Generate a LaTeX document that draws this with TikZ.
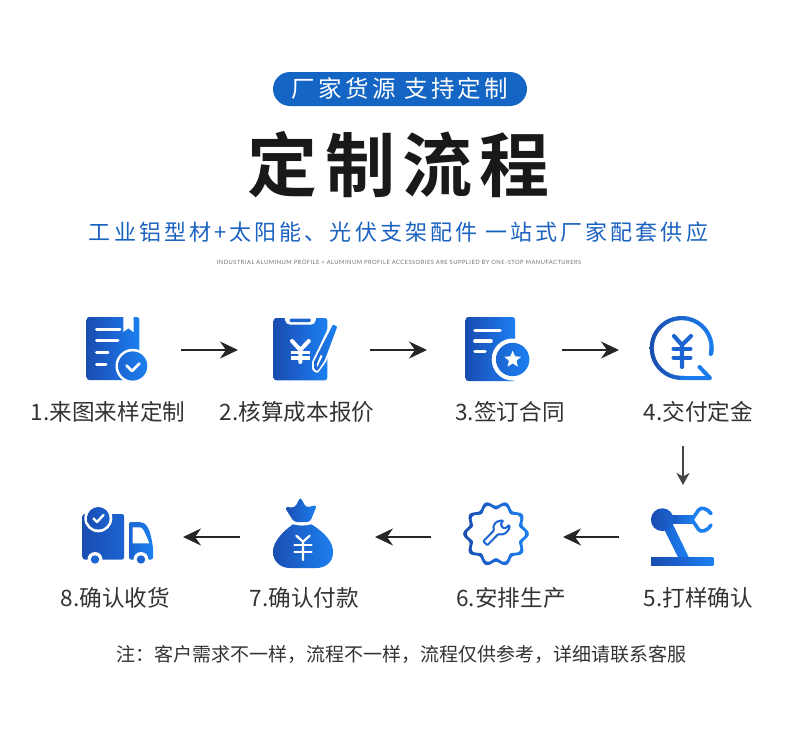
\documentclass[tikz,border=0pt]{standalone}
\usepackage{fontspec}
\usetikzlibrary{arrows.meta,shapes.geometric}
\newfontfamily\cjk[BoldFont=* Bold]{Noto Sans CJK SC}
\newfontfamily\lat{Lato}
\definecolor{gl}{HTML}{1A4DB0}
\definecolor{gm}{HTML}{1B64D2}
\definecolor{gr}{HTML}{1C80F0}
\definecolor{pill}{HTML}{1566C4}
\definecolor{sub}{HTML}{1A62C0}
\definecolor{ink}{HTML}{333333}
\definecolor{arw}{HTML}{262626}
\tikzset{
  grad/.style={left color=gl,right color=gr,shading angle=90,middle color=gm},
  wl/.style={draw=white,line width=3pt,line cap=round},
  steplabel/.style={text=ink,inner sep=0pt,font=\cjk\fontsize{22.6}{25}\selectfont},
  flow/.style={draw=arw,line width=2.4pt,-{Stealth[length=18pt,width=17pt,inset=6pt]}},
  flowv/.style={draw=arw!85,line width=2pt,-{Stealth[length=12pt,width=13pt,inset=3.5pt]}},
}
\begin{document}
\begin{tikzpicture}[x=1pt,y=-1pt]
\useasboundingbox (0,0) rectangle (790,736);
\fill[white] (0,0) rectangle (790,736);
% header
\fill[pill,rounded corners=17pt] (273,72) rectangle (527,106);
\node[inner sep=0pt,text=white,font=\cjk\fontsize{23.5}{26}\selectfont\addfontfeature{LetterSpace=14}] (pilltext) at (400,89) {厂家货源 支持定制};
\node[inner sep=0pt,text=black!90,font=\cjk\bfseries\fontsize{70}{76}\selectfont\addfontfeature{LetterSpace=10.5}] (title) at (399,165) {定制流程};
\node[inner sep=0pt,text=sub,font=\cjk\fontsize{22}{26}\selectfont\addfontfeature{LetterSpace=14}] (subtitle) at (398.5,232) {工业铝型材+太阳能、光伏支架配件 一站式厂家配套供应};
\node[inner sep=0pt,text=black!55,font=\lat\fontsize{5.8}{7}\selectfont\addfontfeature{LetterSpace=8}] (small) at (399,262) {INDUSTRIAL ALUMINUM PROFILE + ALUMINUM PROFILE ACCESSORIES ARE SUPPLIED BY ONE-STOP MANUFACTURERS};

% anchors of the icons
\coordinate (i1) at (113,350);
\coordinate (i2) at (304,350);
\coordinate (i3) at (495,350);
\coordinate (i4) at (683,350);
\coordinate (i5) at (683,537);
\coordinate (i6) at (496,537);
\coordinate (i7) at (304,537);
\coordinate (i8) at (117,537);

% connectors
\draw[flow,shorten <=68pt,shorten >=66pt] (i1) -- (i2);
\draw[flow,shorten <=66pt,shorten >=68pt] (i2) -- (i3);
\draw[flow,shorten <=67pt,shorten >=64pt] (i3) -- (i4);
\draw[flowv,shorten <=96pt,shorten >=52pt] (i4) -- (i5);
\draw[flow,shorten <=64pt,shorten >=67pt] (i5) -- (i6);
\draw[flow,shorten <=65pt,shorten >=71pt] (i6) -- (i7);
\draw[flow,shorten <=64pt,shorten >=66pt] (i7) -- (i8);

% icon 1
\shade[grad,rounded corners=2.5pt] (86.7,317) rectangle (139.3,380);
\fill[white] (123.3,317) -- (133.5,317) -- (133.5,332) -- (128.4,328.3) -- (123.3,332) -- cycle;
\foreach \yy/\xx in {329/120,340.7/118,352.5/108,364/106} \draw[wl] (96.5,\yy) -- (\xx,\yy);
\fill[white] (132.7,366) circle (17.2);
\shade[left color=gm,right color=gr] (132.7,366) circle (14.6);
\draw[white,line width=2.8pt,line cap=round,line join=round] (126.5,365.5) -- (132,371) -- (139.5,363.5);

% icon 2
\shade[grad,rounded corners=2.5pt] (273.7,318) rectangle (327.3,380.3);
\fill[white,rounded corners=2pt] (284.5,316) -- (285.3,322) -- (288,324.7) -- (313,324.7) -- (315.5,322) -- (316.5,316) -- cycle;
\fill[gm,rounded corners=1pt] (289.7,318.6) rectangle (310.7,322);
\draw[white,line width=4pt,line cap=round,line join=miter] (292,341) -- (300.3,350) -- (308.8,341) (300.3,350) -- (300.3,362);
\draw[white,line width=3.2pt,line cap=butt] (290.7,352.7) -- (310.3,352.7) (290.7,358) -- (310.3,358);
\fill[white,rounded corners=1.5pt] (331,322) -- (340,325.5) -- (326.5,361) -- (317.5,373.5) -- (312,370) -- (312,361.5) -- (316.5,352.5) -- cycle;
\shade[left color=gm,right color=gr,rounded corners=1pt] (333,324.5) -- (337.3,326.5) -- (324.7,360.3) -- (317.3,371.3) -- (314.5,369) -- (314,362) -- (318,353.7) -- cycle;
\fill[white] (320.6,355) -- (322.6,356) -- (317.3,367) -- (316.7,364.5) -- cycle;

% icon 3
\shade[grad,rounded corners=2.5pt] (465.7,317) rectangle (515,381);
\foreach \yy/\xx in {330.5/500,341/491,351.5/485} \draw[wl,line width=3.6pt] (475,\yy) -- (\xx,\yy);
\fill[white] (512.7,359.5) circle (21);
\shade[left color=gm,right color=gr] (512.7,359.5) circle (16.7);
\node[star,star points=5,star point ratio=2.3,fill=white,inner sep=0pt,minimum size=18pt,rounded corners=.6pt] (star3) at (512.7,359.5) {};

% icon 4
\shade[left color=gl,right color=gr] (681.7,348) circle (32);
\fill[white] (681.7,348) circle (27.8);
\fill[white] (681.7,348) -- (716,356) -- (718,385) -- (684,385) -- cycle;
\draw[gr!90!gl,line width=4pt,line cap=round,line join=round] (682,378) -- (710,378) -- (699.5,367);
\draw[gr!90!gl,line width=4pt,line cap=round] (711.5,348) -- (710.8,354);
\draw[gm,line width=4.2pt,line cap=round] (674,336) -- (682,345) -- (691,336) (682,345) -- (682,367);
\draw[gm,line width=4pt,line cap=round] (673.5,348.5) -- (690.5,348.5) (673.5,357.5) -- (690.5,357.5);

% icon 5
\shade[grad] (651,557) rectangle (713.3,565.3);
\shade[left color=gm,right color=gr] (662.5,526) -- (672.5,523.5) -- (688.8,557.2) -- (678,557.2) -- cycle;
\shade[left color=gl,right color=gr] (665,515.8) rectangle (693.3,523.6);
\shade[left color=gl,right color=gm] (662.3,519.7) circle (11.4);
\draw[gr,line width=3.6pt,line cap=round,line join=round] (711,513.5) .. controls (707,508) and (701,507) .. (698.5,510) -- (692,519.7) -- (698.5,529.5) .. controls (701,532.5) and (707,531.5) .. (711,525);

% icon 6
\shade[left color=gl,right color=gr,even odd rule]
  plot[domain=0:360,samples=181,smooth] ({496+(30.4+2.4*cos(10*\x))*cos(\x)},{533.8+(30.4+2.4*cos(10*\x))*sin(\x)}) -- cycle
  plot[domain=0:360,samples=181,smooth] ({496+(26.8+2.4*cos(10*\x))*cos(\x)},{533.8+(26.8+2.4*cos(10*\x))*sin(\x)}) -- cycle;
\draw[gm,line width=2pt,line join=round,rounded corners=1pt]
  (494,530.3) -- (493.3,526.3) -- (496,522) -- (501.7,520.3) -- (503.3,520.7) -- (500.7,524) -- (502.7,528) -- (506,528) -- (509.3,524.7) -- (509.3,528.7) -- (506,533) -- (501.7,534.7) -- (498.3,534) -- (487.3,545.3) -- (483.3,541.3) -- cycle;

% icon 7
\shade[left color=gl!95!gm,right color=gr] (293,524.3) .. controls (299,526) and (306,526) .. (311.5,524.3) .. controls (325,533) and (333.5,542) .. (333,553) .. controls (332.5,563) and (325,568) .. (316,568) -- (290,568) .. controls (280,568) and (273,561) .. (273,552) .. controls (273,542) and (282,532) .. (293,524.3) -- cycle;
\shade[left color=gl,right color=gr,rounded corners=3pt] (284.5,507) -- (295,507.5) -- (300.3,497) -- (306,507.5) -- (317,505) -- (310,522) -- (294,522) -- cycle;
\draw[white,line width=2.2pt,line cap=round] (296.3,535.7) -- (303,541.7) -- (309.7,535.7) (303,541.7) -- (303,560);
\draw[white,line width=2.2pt,line cap=round] (294.5,545) -- (311.5,545) (294.5,551.7) -- (311.5,551.7);

% icon 8
\shade[left color=gl,right color=gm,rounded corners=2pt] (82.7,514) rectangle (124,559.5);
\shade[left color=gm,right color=gr,rounded corners=2pt] (129,522) -- (137,522) .. controls (146,522) and (150,527) .. (153,548) -- (153,559.5) -- (129,559.5) -- cycle;
\fill[white] (132.7,527.3) -- (140,527.3) .. controls (143,527.3) and (146,535) .. (149.3,543.3) -- (132.7,543.3) -- cycle;
\fill[white] (98.3,518.3) circle (14);
\shade[left color=gl,right color=gm] (98.3,518.3) circle (11.3);
\draw[white,line width=2.4pt,line cap=round,line join=round] (93.5,518.5) -- (97,522) -- (103.5,515);
\foreach \xx in {95,141} {
  \fill[white] (\xx,559.5) circle (7.5);
  \fill[gm] (\xx,559.5) circle (4.2);
}

% labels
\node[steplabel] (l1) at (108,412) {1.来图来样定制};
\node[steplabel] (l2) at (297,412) {2.核算成本报价};
\node[steplabel] (l3) at (510,412) {3.签订合同};
\node[steplabel] (l4) at (698.5,412) {4.交付定金};
\node[steplabel] (l5) at (698.5,598) {5.打样确认};
\node[steplabel] (l6) at (511,598) {6.安排生产};
\node[steplabel] (l7) at (304.5,598) {7.确认付款};
\node[steplabel] (l8) at (115.5,598) {8.确认收货};
\node[inner sep=0pt,text=ink,font=\cjk\fontsize{19}{22}\selectfont] (note) at (401.5,654) {注：客户需求不一样，流程不一样，流程仅供参考，详细请联系客服};
\end{tikzpicture}
\end{document}
